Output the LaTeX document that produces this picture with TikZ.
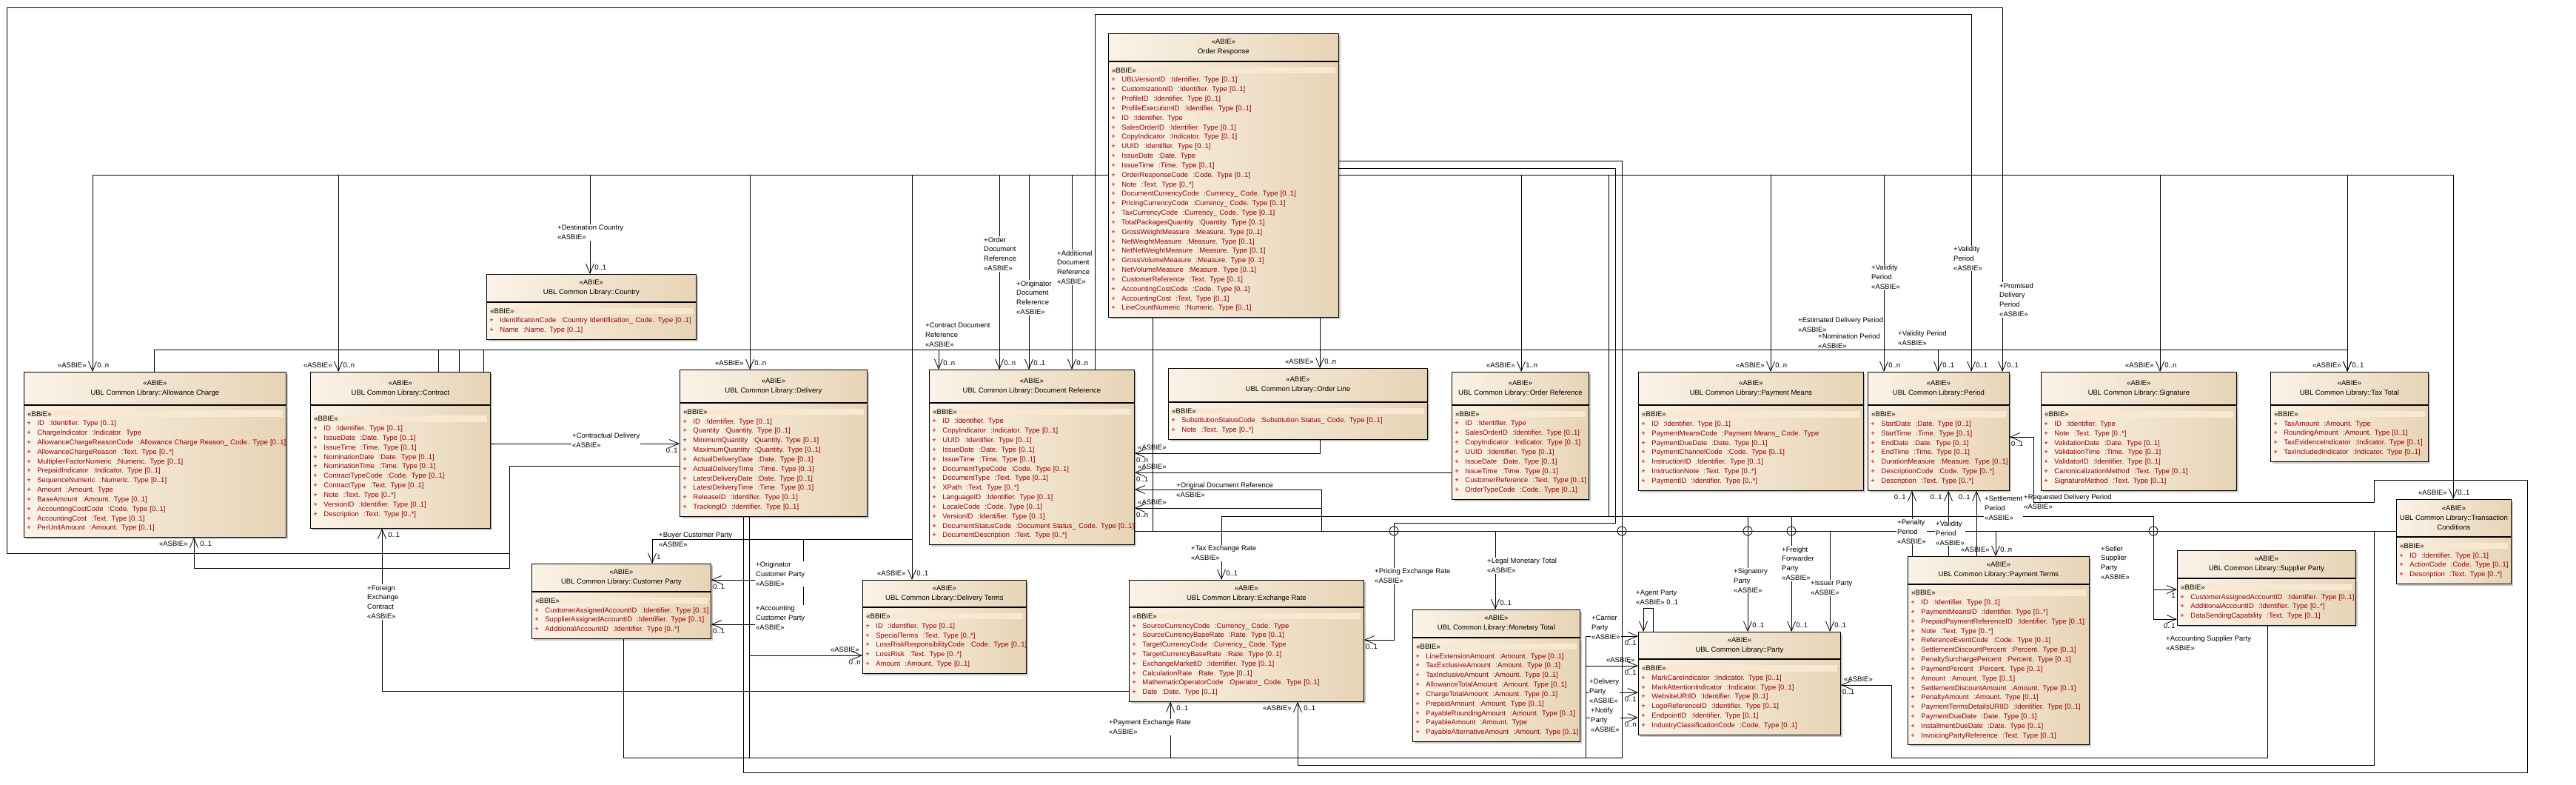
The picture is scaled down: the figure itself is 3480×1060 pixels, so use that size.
\documentclass[tikz,border=0pt]{standalone}
\usepackage{fontspec}
\setmainfont{Liberation Sans}
\usetikzlibrary{positioning,shadows,arrows.meta}
\definecolor{abieL}{HTML}{FBF3E8}
\definecolor{abieR}{HTML}{E7D4B6}
\definecolor{band}{HTML}{F8E8D2}
\definecolor{attr}{HTML}{990000}
\setlength{\fboxsep}{1pt}
\newcommand{\at}[2]{\mbox{\textcolor{attr}{\makebox[14pt][l]{+}#1\ \ :#2}}}
\newcommand{\bbie}{\colorbox{band}{\makebox[\dimexpr\linewidth-2\fboxsep\relax][l]{«BBIE»}}}

\begin{document}
\begin{tikzpicture}[x=1pt, y=-1pt,
    every node/.style={font=\fontsize{9.5}{12.83}\selectfont},
    abie/.style={draw, line width=0.8pt, left color=abieL, right color=abieR, anchor=north west,
      align=center, inner sep=2pt, drop shadow={shadow xshift=3pt, shadow yshift=-3pt, fill=black!22, opacity=1}},
    bbiebox/.style={draw, line width=0.8pt, left color=abieL, right color=abieR, align=left,
      inner xsep=4pt, inner ysep=5pt, drop shadow={shadow xshift=3pt, shadow yshift=-3pt, fill=black!22, opacity=1}},
    link/.style={line width=0.8pt},
    asbie/.style={line width=0.8pt, -{Straight Barb[length=13pt, width=11pt, line width=0.8pt]}},
    role/.style={anchor=west, align=left, fill=white, inner sep=1pt},
    rolen/.style={anchor=west, align=left, inner sep=1pt},
    al/.style={anchor=south east, inner sep=1pt, xshift=-7pt, yshift=4pt},
    ml/.style={anchor=south west, inner sep=1pt, xshift=5pt, yshift=4pt},
    alu/.style={anchor=north east, inner sep=1pt, xshift=-7pt, yshift=-4pt},
    mlu/.style={anchor=north west, inner sep=1pt, xshift=7pt, yshift=-4pt},
    ae/.style={anchor=south west, inner sep=1pt, xshift=3pt, yshift=3pt},
    me/.style={anchor=north west, inner sep=1pt, xshift=1pt, yshift=-4pt},
    aw/.style={anchor=south east, inner sep=1pt, xshift=-3pt, yshift=3pt},
    mw/.style={anchor=north east, inner sep=1pt, xshift=-1pt, yshift=-4pt}]
  \useasboundingbox (0,0) rectangle (3480,1060);

  % classes
  \node at (1497, 45) (or) [abie, minimum width=311pt, minimum height=37pt] {«ABIE»\\Order Response};
  \node (or-b) [bbiebox, below=0pt of or, text width=303pt, minimum height=345pt] {\bbie\\
    \at{UBLVersionID}{Identifier. Type [0..1]}\\
    \at{CustomizationID}{Identifier. Type [0..1]}\\
    \at{ProfileID}{Identifier. Type [0..1]}\\
    \at{ProfileExecutionID}{Identifier. Type [0..1]}\\
    \at{ID}{Identifier. Type}\\
    \at{SalesOrderID}{Identifier. Type [0..1]}\\
    \at{CopyIndicator}{Indicator. Type [0..1]}\\
    \at{UUID}{Identifier. Type [0..1]}\\
    \at{IssueDate}{Date. Type}\\
    \at{IssueTime}{Time. Type [0..1]}\\
    \at{OrderResponseCode}{Code. Type [0..1]}\\
    \at{Note}{Text. Type [0..*]}\\
    \at{DocumentCurrencyCode}{Currency\_ Code. Type [0..1]}\\
    \at{PricingCurrencyCode}{Currency\_ Code. Type [0..1]}\\
    \at{TaxCurrencyCode}{Currency\_ Code. Type [0..1]}\\
    \at{TotalPackagesQuantity}{Quantity. Type [0..1]}\\
    \at{GrossWeightMeasure}{Measure. Type [0..1]}\\
    \at{NetWeightMeasure}{Measure. Type [0..1]}\\
    \at{NetNetWeightMeasure}{Measure. Type [0..1]}\\
    \at{GrossVolumeMeasure}{Measure. Type [0..1]}\\
    \at{NetVolumeMeasure}{Measure. Type [0..1]}\\
    \at{CustomerReference}{Text. Type [0..1]}\\
    \at{AccountingCostCode}{Code. Type [0..1]}\\
    \at{AccountingCost}{Text. Type [0..1]}\\
    \at{LineCountNumeric}{Numeric. Type [0..1]}};

  \node at (657, 370) (cty) [abie, minimum width=283pt, minimum height=37pt] {«ABIE»\\UBL Common Library::Country};
  \node (cty-b) [bbiebox, below=0pt of cty, text width=275pt, minimum height=50pt] {\bbie\\
    \at{IdentificationCode}{Country Identification\_ Code. Type [0..1]}\\
    \at{Name}{Name. Type [0..1]}};

  \node at (32, 502) (ac) [abie, minimum width=354pt, minimum height=44pt] {«ABIE»\\UBL Common Library::Allowance Charge};
  \node (ac-b) [bbiebox, below=0pt of ac, text width=346pt, minimum height=178pt] {\bbie\\
    \at{ID}{Identifier. Type [0..1]}\\
    \at{ChargeIndicator}{Indicator. Type}\\
    \at{AllowanceChargeReasonCode}{Allowance Charge Reason\_ Code. Type [0..1]}\\
    \at{AllowanceChargeReason}{Text. Type [0..*]}\\
    \at{MultiplierFactorNumeric}{Numeric. Type [0..1]}\\
    \at{PrepaidIndicator}{Indicator. Type [0..1]}\\
    \at{SequenceNumeric}{Numeric. Type [0..1]}\\
    \at{Amount}{Amount. Type}\\
    \at{BaseAmount}{Amount. Type [0..1]}\\
    \at{AccountingCostCode}{Code. Type [0..1]}\\
    \at{AccountingCost}{Text. Type [0..1]}\\
    \at{PerUnitAmount}{Amount. Type [0..1]}};

  \node at (419, 502) (ct) [abie, minimum width=243pt, minimum height=44pt] {«ABIE»\\UBL Common Library::Contract};
  \node (ct-b) [bbiebox, below=0pt of ct, text width=235pt, minimum height=166pt] {\bbie\\
    \at{ID}{Identifier. Type [0..1]}\\
    \at{IssueDate}{Date. Type [0..1]}\\
    \at{IssueTime}{Time. Type [0..1]}\\
    \at{NominationDate}{Date. Type [0..1]}\\
    \at{NominationTime}{Time. Type [0..1]}\\
    \at{ContractTypeCode}{Code. Type [0..1]}\\
    \at{ContractType}{Text. Type [0..1]}\\
    \at{Note}{Text. Type [0..*]}\\
    \at{VersionID}{Identifier. Type [0..1]}\\
    \at{Description}{Text. Type [0..*]}};

  \node at (918, 499) (dlv) [abie, minimum width=253pt, minimum height=44pt] {«ABIE»\\UBL Common Library::Delivery};
  \node (dlv-b) [bbiebox, below=0pt of dlv, text width=245pt, minimum height=153pt] {\bbie\\
    \at{ID}{Identifier. Type [0..1]}\\
    \at{Quantity}{Quantity. Type [0..1]}\\
    \at{MinimumQuantity}{Quantity. Type [0..1]}\\
    \at{MaximumQuantity}{Quantity. Type [0..1]}\\
    \at{ActualDeliveryDate}{Date. Type [0..1]}\\
    \at{ActualDeliveryTime}{Time. Type [0..1]}\\
    \at{LatestDeliveryDate}{Date. Type [0..1]}\\
    \at{LatestDeliveryTime}{Time. Type [0..1]}\\
    \at{ReleaseID}{Identifier. Type [0..1]}\\
    \at{TrackingID}{Identifier. Type [0..1]}};

  \node at (1255, 499) (dr) [abie, minimum width=277pt, minimum height=44pt] {«ABIE»\\UBL Common Library::Document Reference};
  \node (dr-b) [bbiebox, below=0pt of dr, text width=269pt, minimum height=191pt] {\bbie\\
    \at{ID}{Identifier. Type}\\
    \at{CopyIndicator}{Indicator. Type [0..1]}\\
    \at{UUID}{Identifier. Type [0..1]}\\
    \at{IssueDate}{Date. Type [0..1]}\\
    \at{IssueTime}{Time. Type [0..1]}\\
    \at{DocumentTypeCode}{Code. Type [0..1]}\\
    \at{DocumentType}{Text. Type [0..1]}\\
    \at{XPath}{Text. Type [0..*]}\\
    \at{LanguageID}{Identifier. Type [0..1]}\\
    \at{LocaleCode}{Code. Type [0..1]}\\
    \at{VersionID}{Identifier. Type [0..1]}\\
    \at{DocumentStatusCode}{Document Status\_ Code. Type [0..1]}\\
    \at{DocumentDescription}{Text. Type [0..*]}};

  \node at (1578, 497) (ol) [abie, minimum width=350pt, minimum height=45pt] {«ABIE»\\UBL Common Library::Order Line};
  \node (ol-b) [bbiebox, below=0pt of ol, text width=342pt, minimum height=50pt] {\bbie\\
    \at{SubstitutionStatusCode}{Substitution Status\_ Code. Type [0..1]}\\
    \at{Note}{Text. Type [0..*]}};

  \node at (1961, 502) (oref) [abie, minimum width=185pt, minimum height=44pt] {«ABIE»\\UBL Common Library::Order Reference};
  \node (oref-b) [bbiebox, below=0pt of oref, text width=177pt, minimum height=127pt] {\bbie\\
    \at{ID}{Identifier. Type}\\
    \at{SalesOrderID}{Identifier. Type [0..1]}\\
    \at{CopyIndicator}{Indicator. Type [0..1]}\\
    \at{UUID}{Identifier. Type [0..1]}\\
    \at{IssueDate}{Date. Type [0..1]}\\
    \at{IssueTime}{Time. Type [0..1]}\\
    \at{CustomerReference}{Text. Type [0..1]}\\
    \at{OrderTypeCode}{Code. Type [0..1]}};

  \node at (2213, 502) (pm) [abie, minimum width=304pt, minimum height=44pt] {«ABIE»\\UBL Common Library::Payment Means};
  \node (pm-b) [bbiebox, below=0pt of pm, text width=296pt, minimum height=115pt] {\bbie\\
    \at{ID}{Identifier. Type [0..1]}\\
    \at{PaymentMeansCode}{Payment Means\_ Code. Type}\\
    \at{PaymentDueDate}{Date. Type [0..1]}\\
    \at{PaymentChannelCode}{Code. Type [0..1]}\\
    \at{InstructionID}{Identifier. Type [0..1]}\\
    \at{InstructionNote}{Text. Type [0..*]}\\
    \at{PaymentID}{Identifier. Type [0..*]}};

  \node at (2523, 502) (per) [abie, minimum width=191pt, minimum height=44pt] {«ABIE»\\UBL Common Library::Period};
  \node (per-b) [bbiebox, below=0pt of per, text width=183pt, minimum height=115pt] {\bbie\\
    \at{StartDate}{Date. Type [0..1]}\\
    \at{StartTime}{Time. Type [0..1]}\\
    \at{EndDate}{Date. Type [0..1]}\\
    \at{EndTime}{Time. Type [0..1]}\\
    \at{DurationMeasure}{Measure. Type [0..1]}\\
    \at{DescriptionCode}{Code. Type [0..*]}\\
    \at{Description}{Text. Type [0..*]}};

  \node at (2757, 502) (sig) [abie, minimum width=264pt, minimum height=44pt] {«ABIE»\\UBL Common Library::Signature};
  \node (sig-b) [bbiebox, below=0pt of sig, text width=256pt, minimum height=115pt] {\bbie\\
    \at{ID}{Identifier. Type}\\
    \at{Note}{Text. Type [0..*]}\\
    \at{ValidationDate}{Date. Type [0..1]}\\
    \at{ValidationTime}{Time. Type [0..1]}\\
    \at{ValidatorID}{Identifier. Type [0..1]}\\
    \at{CanonicalizationMethod}{Text. Type [0..1]}\\
    \at{SignatureMethod}{Text. Type [0..1]}};

  \node at (3067, 502) (tt) [abie, minimum width=213pt, minimum height=44pt] {«ABIE»\\UBL Common Library::Tax Total};
  \node (tt-b) [bbiebox, below=0pt of tt, text width=205pt, minimum height=76pt] {\bbie\\
    \at{TaxAmount}{Amount. Type}\\
    \at{RoundingAmount}{Amount. Type [0..1]}\\
    \at{TaxEvidenceIndicator}{Indicator. Type [0..1]}\\
    \at{TaxIncludedIndicator}{Indicator. Type [0..1]}};

  \node at (3237, 674) (tc) [abie, minimum width=155pt, minimum height=50pt] {«ABIE»\\UBL Common Library::Transaction\\Conditions};
  \node (tc-b) [bbiebox, below=0pt of tc, text width=147pt, minimum height=63pt] {\bbie\\
    \at{ID}{Identifier. Type [0..1]}\\
    \at{ActionCode}{Code. Type [0..1]}\\
    \at{Description}{Text. Type [0..*]}};

  \node at (718, 761) (cp) [abie, minimum width=242pt, minimum height=37pt] {«ABIE»\\UBL Common Library::Customer Party};
  \node (cp-b) [bbiebox, below=0pt of cp, text width=234pt, minimum height=63pt] {\bbie\\
    \at{CustomerAssignedAccountID}{Identifier. Type [0..1]}\\
    \at{SupplierAssignedAccountID}{Identifier. Type [0..1]}\\
    \at{AdditionalAccountID}{Identifier. Type [0..*]}};

  \node at (1165, 783) (dt) [abie, minimum width=221pt, minimum height=36pt] {«ABIE»\\UBL Common Library::Delivery Terms};
  \node (dt-b) [bbiebox, below=0pt of dt, text width=213pt, minimum height=89pt] {\bbie\\
    \at{ID}{Identifier. Type [0..1]}\\
    \at{SpecialTerms}{Text. Type [0..*]}\\
    \at{LossRiskResponsibilityCode}{Code. Type [0..1]}\\
    \at{LossRisk}{Text. Type [0..*]}\\
    \at{Amount}{Amount. Type [0..1]}};

  \node at (1525, 783) (xr) [abie, minimum width=317pt, minimum height=36pt] {«ABIE»\\UBL Common Library::Exchange Rate};
  \node (xr-b) [bbiebox, below=0pt of xr, text width=309pt, minimum height=127pt] {\bbie\\
    \at{SourceCurrencyCode}{Currency\_ Code. Type}\\
    \at{SourceCurrencyBaseRate}{Rate. Type [0..1]}\\
    \at{TargetCurrencyCode}{Currency\_ Code. Type}\\
    \at{TargetCurrencyBaseRate}{Rate. Type [0..1]}\\
    \at{ExchangeMarketID}{Identifier. Type [0..1]}\\
    \at{CalculationRate}{Rate. Type [0..1]}\\
    \at{MathematicOperatorCode}{Operator\_ Code. Type [0..1]}\\
    \at{Date}{Date. Type [0..1]}};

  \node at (1908, 823) (mt) [abie, minimum width=226pt, minimum height=37pt] {«ABIE»\\UBL Common Library::Monetary Total};
  \node (mt-b) [bbiebox, below=0pt of mt, text width=218pt, minimum height=140pt] {\bbie\\
    \at{LineExtensionAmount}{Amount. Type [0..1]}\\
    \at{TaxExclusiveAmount}{Amount. Type [0..1]}\\
    \at{TaxInclusiveAmount}{Amount. Type [0..1]}\\
    \at{AllowanceTotalAmount}{Amount. Type [0..1]}\\
    \at{ChargeTotalAmount}{Amount. Type [0..1]}\\
    \at{PrepaidAmount}{Amount. Type [0..1]}\\
    \at{PayableRoundingAmount}{Amount. Type [0..1]}\\
    \at{PayableAmount}{Amount. Type}\\
    \at{PayableAlternativeAmount}{Amount. Type [0..1]}};

  \node at (2213, 853) (pty) [abie, minimum width=273pt, minimum height=36pt] {«ABIE»\\UBL Common Library::Party};
  \node (pty-b) [bbiebox, below=0pt of pty, text width=265pt, minimum height=102pt] {\bbie\\
    \at{MarkCareIndicator}{Indicator. Type [0..1]}\\
    \at{MarkAttentionIndicator}{Indicator. Type [0..1]}\\
    \at{WebsiteURIID}{Identifier. Type [0..1]}\\
    \at{LogoReferenceID}{Identifier. Type [0..1]}\\
    \at{EndpointID}{Identifier. Type [0..1]}\\
    \at{IndustryClassificationCode}{Code. Type [0..1]}};

  \node at (2577, 751) (pt) [abie, minimum width=245pt, minimum height=37pt] {«ABIE»\\UBL Common Library::Payment Terms};
  \node (pt-b) [bbiebox, below=0pt of pt, text width=237pt, minimum height=216pt] {\bbie\\
    \at{ID}{Identifier. Type [0..1]}\\
    \at{PaymentMeansID}{Identifier. Type [0..*]}\\
    \at{PrepaidPaymentReferenceID}{Identifier. Type [0..1]}\\
    \at{Note}{Text. Type [0..*]}\\
    \at{ReferenceEventCode}{Code. Type [0..1]}\\
    \at{SettlementDiscountPercent}{Percent. Type [0..1]}\\
    \at{PenaltySurchargePercent}{Percent. Type [0..1]}\\
    \at{PaymentPercent}{Percent. Type [0..1]}\\
    \at{Amount}{Amount. Type [0..1]}\\
    \at{SettlementDiscountAmount}{Amount. Type [0..1]}\\
    \at{PenaltyAmount}{Amount. Type [0..1]}\\
    \at{PaymentTermsDetailsURIID}{Identifier. Type [0..1]}\\
    \at{PaymentDueDate}{Date. Type [0..1]}\\
    \at{InstallmentDueDate}{Date. Type [0..1]}\\
    \at{InvoicingPartyReference}{Text. Type [0..1]}};

  \node at (2941, 743) (sp) [abie, minimum width=241pt, minimum height=37pt] {«ABIE»\\UBL Common Library::Supplier Party};
  \node (sp-b) [bbiebox, below=0pt of sp, text width=233pt, minimum height=63pt] {\bbie\\
    \at{CustomerAssignedAccountID}{Identifier. Type [0..1]}\\
    \at{AdditionalAccountID}{Identifier. Type [0..*]}\\
    \at{DataSendingCapability}{Text. Type [0..1]}};

  % associations from Order Response, left bus
  \draw[asbie] (or-b.west |- 0,236) -| (ac.north -| 125,0) node[al]{«ASBIE»} node[ml]{0..n};
  \draw[asbie] (or-b.west |- 0,236) -| (ct.north -| 457,0) node[al]{«ASBIE»} node[ml]{0..n};
  \draw[asbie] (or-b.west |- 0,236) -| (cty.north -| 797,0) node[ml]{0..1};
  \draw[asbie] (or-b.west |- 0,236) -| (dlv.north -| 1013,0) node[al]{«ASBIE»} node[ml]{0..n};
  \draw[asbie] (or-b.west |- 0,236) -| (dt.north -| 1232,0) node[al]{«ASBIE»} node[ml]{0..1};
  \draw[asbie] (or-b.west |- 0,236) -| (dr.north -| 1350,0) node[ml]{0..n};
  \draw[asbie] (or-b.west |- 0,236) -| (dr.north -| 1390,0) node[ml]{0..1};
  \draw[asbie] (or-b.west |- 0,236) -| (dr.north -| 1448,0) node[ml]{0..n};
  \draw[asbie] (or-b.west |- 0,236) -| (1232,728) -| (cp.north -| 881,0) node[ml]{1};
  \draw[asbie] (or-b.west |- 0,236) -| (1232,728) -| (1085,783) -- (cp.east |- 0,783) node[me]{0..1};
  \draw[asbie] (or-b.west |- 0,236) -| (1232,728) -| (1085,843) -- (cp-b.east |- 0,843) node[me]{0..1};

  % right bus
  \draw[asbie] (or-b.east |- 0,236) -| (oref.north -| 2055,0) node[al]{«ASBIE»} node[ml]{1..n};
  \draw[asbie] (or-b.east |- 0,236) -| (pm.north -| 2392,0) node[al]{«ASBIE»} node[ml]{0..n};
  \draw[asbie] (or-b.east |- 0,236) -| (per.north -| 2545,0) node[ml]{0..n};
  \draw[asbie] (or-b.east |- 0,236) -| (sig.north -| 2918,0) node[al]{«ASBIE»} node[ml]{0..n};
  \draw[asbie] (or-b.east |- 0,236) -| (tt.north -| 3171,0) node[al]{«ASBIE»} node[ml]{0..1};
  \draw[asbie] (or-b.east |- 0,236) -| (tc.north -| 3314,0) node[al]{«ASBIE»} node[ml]{0..1};
  \draw[asbie] (or-b.east |- 0,236) -| (2173,697) -| (xr.north -| 1650,0) node[ml]{0..1};
  \draw[asbie] (or-b.east |- 0,236) -| (2173,697) -| (pty.north -| 2361,0) node[ml]{0..1};
  \draw[asbie] (or-b.east |- 0,236) -| (2173,697) -| (pty.north -| 2420,0) node[ml]{0..1};
  \draw[asbie] (or-b.east |- 0,236) -| (2173,697) -| (2909,796) -- (sp-b.west |- 0,796) node[mw]{1};
  \draw[asbie] (or-b.east |- 0,236) -| (2173,697) -| (2909,836) -- (sp-b.west |- 0,836) node[mw]{0..1};
  \draw[asbie] (or-b.east |- 0,227) -| (2182,706) -| (1883,864) -- (xr-b.east |- 0,864) node[me]{0..1};
  \draw[asbie] (or-b.east |- 0,217) -| (2191,1023) -| (xr-b.south -| 1581,0) node[mlu]{0..1};

  % from the bottom of Order Response
  \draw[asbie] (or-b.south -| 1783,0) -- (ol.north -| 1783,0) node[al]{«ASBIE»} node[ml]{0..n};
  \draw[asbie] (or-b.south -| 1557,0) |- (2020,717) -- (mt.north -| 2020,0) node[ml]{0..1};
  \draw[asbie] (or-b.south -| 1557,0) |- (2696,717) -- (pt.north -| 2696,0) node[al]{«ASBIE»} node[ml]{0..n};

  % long loops
  \draw[asbie] (dlv-b.west |- 0,629) -| (688,747) -| (9,10) -| (per.north -| 2705,0) node[ml]{0..1};
  \draw[asbie] (dr.north -| 1479,0) |- (2663,19) -- (per.north -| 2663,0) node[ml]{0..1};
  \draw[asbie] (ac.north -| 208,0) |- (3171,472) -- (tt.north -| 3171,0);
  \draw[asbie] (ct.north -| 592,0) |- (1268,472) -- (dr.north -| 1268,0) node[ml]{0..n};
  \draw[asbie] (ct.north -| 620,0) |- (2618,472) -- (per.north -| 2618,0) node[ml]{0..1};
  \draw[link] (ct.north -| 653,0) |- (2618,472);

  % lower associations
  \draw[asbie] (ct-b.east |- 0,599) -- (dlv-b.west |- 0,599) node[mw]{0..1};
  \draw[asbie] (dlv-b.west |- 0,629) -| (688,767) -| (ac-b.south -| 262,0) node[alu]{«ASBIE»} node[mlu]{0..1};
  \draw[asbie] (xr-b.west |- 0,933) -| (ct-b.south -| 516,0) node[mlu]{0..1};
  \draw[asbie] (dlv-b.south -| 1012,0) |- (dt-b.west |- 0,885) node[aw]{«ASBIE»} node[mw]{0..n};
  \draw[asbie] (dlv-b.south -| 1004,0) |- (3414,1043) |- (3207,648) |- (2747,678) |- (per-b.east |- 0,590) node[me]{0..1};
  \draw[asbie] (dlv-b.south -| 1012,0) |- (2142,1023) |- (pty.west |- 0,859) node[mw]{0..1};
  \draw[asbie] (dlv-b.south -| 1012,0) |- (2142,1023) |- (pty-b.west |- 0,935) node[mw]{0..1};
  \draw[asbie] (dlv-b.south -| 1012,0) |- (2142,1023) |- (pty-b.west |- 0,969) node[mw]{0..n};
  \draw[asbie] (cp-b.south -| 842,0) |- (2142,1023) |- (pty-b.west |- 0,899) node[aw]{«ASBIE»} node[mw]{0..1};
  \draw[asbie] (pty.north -| 2233,0) |- (2220,821) -- (pty.north -| 2220,0);
  \draw[asbie] (sp-b.south -| 3063,0) |- (2555,1023) |- (pty-b.east |- 0,925) node[ae]{«ASBIE»} node[me]{0..1};
  \draw[asbie] (dr-b.east |- 0,717) -| (pty.north -| 2472,0) node[ml]{0..1};
  \draw[asbie] (pt.north -| 2583,0) -- (per-b.south -| 2583,0) node[alu]{0..1};
  \draw[asbie] (pt.north -| 2632,0) -- (per-b.south -| 2632,0) node[alu]{0..1};
  \draw[asbie] (pt.north -| 2670,0) -- (per-b.south -| 2670,0) node[alu]{0..1};
  \draw[asbie] (ol-b.south -| 1783,0) |- (dr-b.east |- 0,612) node[ae]{«ASBIE»} node[me]{0..n};
  \draw[asbie] (oref-b.west |- 0,638) -- (dr-b.east |- 0,638) node[ae]{«ASBIE»} node[me]{0..1};
  \draw[asbie] (tc.west |- 0,717) -| (1785,661) -- (dr-b.east |- 0,661);
  \draw[asbie] (tc.west |- 0,717) -| (1785,686) -- (dr-b.east |- 0,686) node[ae]{«ASBIE»} node[me]{0..n};
  \draw[asbie] (tc.west |- 0,717) -| (3207,1033) -| (xr-b.south -| 1753,0) node[alu]{«ASBIE»} node[mlu]{0..1};

  % crossing marks on the y=717 run
  \draw[link] (1883,717) circle (6pt) (2191,717) circle (6pt) (2361,717) circle (6pt)
    (2420,717) circle (6pt) (2909,717) circle (6pt);

  % role names
  \node at (752, 314) (r-dc) [role] {+Destination Country\\«ASBIE»};
  \node at (1328, 343) (r-odr) [role] {+Order\\Document\\Reference\\«ASBIE»};
  \node at (1372, 402) (r-ogdr) [role] {+Originator\\Document\\Reference\\«ASBIE»};
  \node at (1427, 361) (r-adr) [role] {+Additional\\Document\\Reference\\«ASBIE»};
  \node at (1249, 452) (r-cdr) [role] {+Contract Document\\Reference\\«ASBIE»};
  \node at (2527, 374) (r-vp1) [role] {+Validity\\Period\\«ASBIE»};
  \node at (2638, 349) (r-vp2) [role] {+Validity\\Period\\«ASBIE»};
  \node at (2700, 405) (r-pdp) [role] {+Promised\\Delivery\\Period\\«ASBIE»};
  \node at (2428, 439) (r-edp) [rolen] {+Estimated Delivery Period\\«ASBIE»};
  \node at (2455, 461) (r-np) [rolen] {+Nomination Period\\«ASBIE»};
  \node at (2563, 457) (r-vp3) [rolen] {+Validity Period\\«ASBIE»};
  \node at (772, 595) (r-cd) [role] {+Contractual Delivery\\«ASBIE»};
  \node at (889, 729) (r-bcp) [rolen] {+Buyer Customer Party\\«ASBIE»};
  \node at (1020, 775) (r-ocp) [role] {+Originator\\Customer Party\\«ASBIE»};
  \node at (1020, 834) (r-acp) [role] {+Accounting\\Customer Party\\«ASBIE»};
  \node at (495, 813) (r-fec) [role] {+Foreign\\Exchange\\Contract\\«ASBIE»};
  \node at (1588, 662) (r-odrf) [rolen] {+Original Document Reference\\«ASBIE»};
  \node at (1608, 747) (r-ter) [role] {+Tax Exchange Rate\\«ASBIE»};
  \node at (1856, 778) (r-per) [role] {+Pricing Exchange Rate\\«ASBIE»};
  \node at (1497, 982) (r-payr) [role] {+Payment Exchange Rate\\«ASBIE»};
  \node at (2008, 764) (r-lmt) [role] {+Legal Monetary Total\\«ASBIE»};
  \node at (2149, 847) (r-crp) [role] {+Carrier\\Party\\«ASBIE»};
  \node at (2146, 933) (r-dlp) [role] {+Delivery\\Party\\«ASBIE»};
  \node at (2148, 972) (r-ntp) [role] {+Notify\\Party\\«ASBIE»};
  \node at (2209, 807) (r-agp) [rolen] {+Agent Party\\«ASBIE» 0..1};
  \node at (2341, 784) (r-sgp) [role] {+Signatory\\Party\\«ASBIE»};
  \node at (2406, 761) (r-ffp) [role] {+Freight\\Forwarder\\Party\\«ASBIE»};
  \node at (2445, 794) (r-isp) [role] {+Issuer Party\\«ASBIE»};
  \node at (2562, 718) (r-pnp) [role] {+Penalty\\Period\\«ASBIE»};
  \node at (2614, 720) (r-vp4) [role] {+Validity\\Period\\«ASBIE»};
  \node at (2680, 686) (r-stp) [role] {+Settlement\\Period\\«ASBIE»};
  \node at (2733, 678) (r-rdp) [rolen] {+Requested Delivery Period\\«ASBIE»};
  \node at (2837, 760) (r-ssp) [role] {+Seller\\Supplier\\Party\\«ASBIE»};
  \node at (2925, 869) (r-asp) [rolen] {+Accounting Supplier Party\\«ASBIE»};
\end{tikzpicture}
\end{document}
